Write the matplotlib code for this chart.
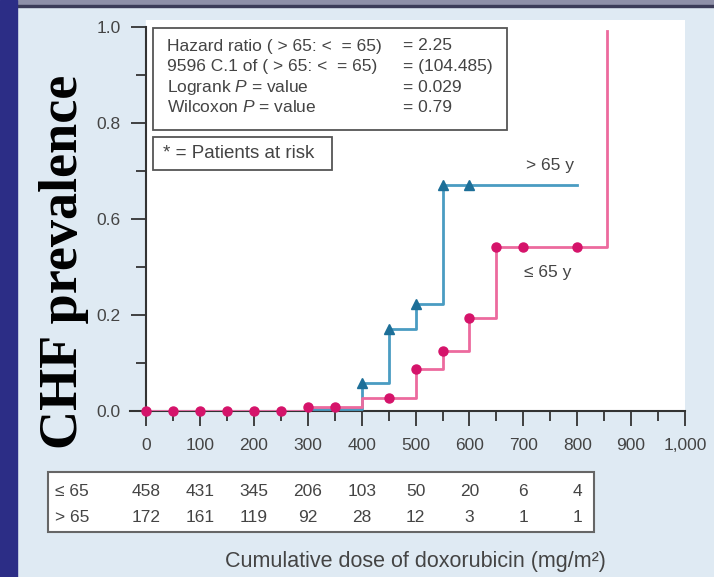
import numpy as np
import matplotlib
matplotlib.use("Agg")
import matplotlib.pyplot as plt
from matplotlib.patches import Rectangle
from matplotlib.transforms import blended_transform_factory

plt.rcParams["font.family"] = ["Liberation Sans", "DejaVu Sans"]
plt.rcParams["mathtext.fontset"] = "custom"
plt.rcParams["mathtext.rm"] = "Liberation Sans"
plt.rcParams["mathtext.it"] = "Liberation Sans:italic"

# ---- data -------------------------------------------------------------
# cumulative CHF curves (step functions, value holds until next dose)
gt65_doses = [0, 300, 400, 450, 500, 550, 800]
gt65_vals = [0.0, 0.004, 0.074, 0.213, 0.279, 0.589, 0.589]
le65_doses = [0, 300, 400, 500, 550, 600, 650, 855, 855]
le65_vals = [0.0, 0.010, 0.033, 0.109, 0.157, 0.241, 0.426, 0.426, 0.99]

# censor / at-risk markers along each curve
gt65_marks = [400, 450, 500, 550, 600]
le65_marks = [0, 50, 100, 150, 200, 250, 300, 350, 450, 500, 550, 600, 650, 700, 800]

# y-axis tick labels as printed
ytick_pos = [0.0, 0.25, 0.5, 0.75, 1.0]
ytick_labels = ["0.0", "0.2", "0.6", "0.8", "1.0"]
xtick_pos = [0, 100, 200, 300, 400, 500, 600, 700, 800, 900, 1000]
xtick_labels = ["0", "100", "200", "300", "400", "500", "600", "700", "800", "900", "1,000"]

# patients at risk
risk_doses = [0, 100, 200, 300, 400, 500, 600, 700, 800]
risk_le65 = [458, 431, 345, 206, 103, 50, 20, 6, 4]
risk_gt65 = [172, 161, 119, 92, 28, 12, 3, 1, 1]

stats_left = ["Hazard ratio ( > 65: <  = 65)",
              "9596 C.1 of ( > 65: <  = 65)",
              r"Logrank $\mathit{P}$ = value",
              r"Wilcoxon $\mathit{P}$ = value"]
stats_right = ["= 2.25", "= (104.485)", "= 0.029", "= 0.79"]

# ---- figure -------------------------------------------------------------
W, H = 714, 577
PANEL = "#dfeaf3"
TXT = "#444444"
fig = plt.figure(figsize=(W / 100, H / 100), dpi=100, facecolor=PANEL)


def fx(px):
    return px / W


def fy(py):
    return 1 - py / H


# slide frame
fig.patches.append(Rectangle((0, fy(6)), 1, fy(0) - fy(6), transform=fig.transFigure,
                             color="#8e90a8", zorder=-3))
fig.patches.append(Rectangle((0, fy(7)), 1, fy(5) - fy(7), transform=fig.transFigure,
                             color="#3b3c58", zorder=-3))
fig.patches.append(Rectangle((0, 0), fx(17), 1, transform=fig.transFigure,
                             color="#2c2d86", zorder=-2))

# axes: x=-30 at px 130, x=1000 at px 685 ; y=0 at px 411, top at px 20
x_left, x_right = 130, 685
y_bot, y_top = 411, 20
ax = fig.add_axes([fx(x_left), fy(y_bot), fx(x_right) - fx(x_left), fy(y_top) - fy(y_bot)])
ax.set_xlim(-30, 1000)
ax.set_ylim(0, (y_bot - y_top) / 384.0)
ax.patch.set_visible(False)
ax.add_patch(Rectangle((0, 0), 1000, 2, color="white", zorder=0))

BLUE_LINE, BLUE_MARK = "#4a9cc2", "#1d6f98"
PINK_LINE, PINK_MARK = "#ec6a9e", "#d5136a"


def step_at(doses, vals, x):
    idx = np.searchsorted(doses, x, side="right") - 1
    return np.asarray(vals)[idx]


ax.step(gt65_doses, gt65_vals, where="post", color=BLUE_LINE, lw=2.0, zorder=3)
ax.plot(gt65_marks, step_at(gt65_doses[:-1], gt65_vals[:-1], gt65_marks), ls="none",
        marker="^", ms=7.5, color=BLUE_MARK, zorder=4, clip_on=False)
ax.step(le65_doses, le65_vals, where="post", color=PINK_LINE, lw=2.0, zorder=5)
ax.plot(le65_marks, step_at(le65_doses[:-2], le65_vals[:-2], le65_marks), ls="none",
        marker="o", ms=6.5, color=PINK_MARK, zorder=6, clip_on=False)

ax.text(750, 0.64, "> 65 y", ha="center", va="center", fontsize=12.5, color=TXT)
ax.text(745, 0.36, "≤ 65 y", ha="center", va="center", fontsize=12.5, color=TXT)

# spines and ticks
for s in ("top", "right"):
    ax.spines[s].set_visible(False)
ax.spines["left"].set_position(("data", 0))
ax.spines["left"].set_bounds(0, 1.0)
for s in ("left", "bottom"):
    ax.spines[s].set_color("#333333")
    ax.spines[s].set_linewidth(1.5)

ax.set_xticks(xtick_pos)
ax.set_xticklabels(xtick_labels)
ax.set_xticks(np.arange(50, 1000, 100), minor=True)
ax.set_yticks(ytick_pos)
ax.set_yticklabels(ytick_labels)
ax.set_yticks([0.125, 0.375, 0.625, 0.875], minor=True)
ax.tick_params(which="major", length=10.5, width=1.3, color="#333333", labelcolor=TXT,
               labelsize=12.5)
ax.tick_params(which="minor", length=7, width=1.3, color="#333333")
ax.tick_params(axis="x", which="major", pad=9)
ax.tick_params(axis="y", which="major", pad=8)

# statistics boxes
fig.patches.append(Rectangle((fx(153), fy(130)), fx(507) - fx(153), fy(28) - fy(130),
                             transform=fig.transFigure, facecolor="white",
                             edgecolor="#555555", lw=1.3, zorder=2))
for i, (l, r) in enumerate(zip(stats_left, stats_right)):
    yy = fy(46 + i * 20.5)
    fig.text(fx(167), yy, l, fontsize=12.5, color=TXT, va="center", zorder=3)
    fig.text(fx(403), yy, r, fontsize=12.5, color=TXT, va="center", zorder=3)

fig.patches.append(Rectangle((fx(153), fy(170)), fx(332) - fx(153), fy(137) - fy(170),
                             transform=fig.transFigure, facecolor="white",
                             edgecolor="#555555", lw=1.3, zorder=2))
fig.text(fx(163), fy(154), "* = Patients at risk", fontsize=13.5, color=TXT,
         va="center", zorder=3)

# patients-at-risk table
fig.patches.append(Rectangle((fx(48), fy(532)), fx(594) - fx(48), fy(472) - fy(532),
                             transform=fig.transFigure, facecolor="white",
                             edgecolor="#666666", lw=1.5, zorder=2))
tr = blended_transform_factory(ax.transData, fig.transFigure)
fig.text(fx(55), fy(491), "≤ 65", fontsize=12.5, color=TXT, va="center", zorder=3)
fig.text(fx(55), fy(517), "> 65", fontsize=12.5, color=TXT, va="center", zorder=3)
for d, a, b in zip(risk_doses, risk_le65, risk_gt65):
    fig.text(d, fy(491), str(a), transform=tr, ha="center", va="center", fontsize=12.5,
             color=TXT, zorder=3)
    fig.text(d, fy(517), str(b), transform=tr, ha="center", va="center", fontsize=12.5,
             color=TXT, zorder=3)

fig.text(fx(415), fy(561), "Cumulative dose of doxorubicin (mg/m²)", ha="center",
         va="center", fontsize=15.5, color=TXT)

# y-axis title
fig.text(fx(64), fy(262), "CHF prevalence", rotation=90, ha="center", va="center",
         fontsize=39, fontweight="bold", family="Liberation Serif", color="black")

fig.savefig("out.png", dpi=100, facecolor=PANEL)
